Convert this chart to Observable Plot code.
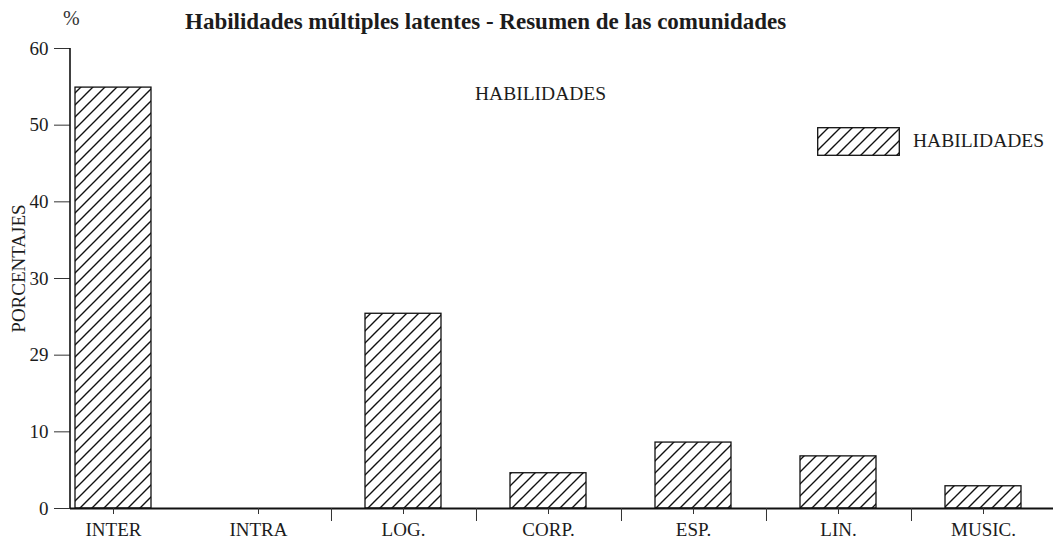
<!DOCTYPE html>
<html><head><meta charset="utf-8">
<script src="https://cdn.jsdelivr.net/npm/d3@7"></script>
<script src="https://cdn.jsdelivr.net/npm/@observablehq/plot@0.6"></script>
<style>
body{margin:0;background:#fff;}
#wrap{position:relative;width:1053px;height:539px;font-family:"Liberation Serif",serif;color:#1c1c1c;overflow:hidden;}
.abs{position:absolute;white-space:nowrap;line-height:1;}
</style></head><body><div id="wrap"></div>
<script>
const categories = ["INTER", "INTRA", "LOG.", "CORP.", "ESP.", "LIN.", "MUSIC."];
const values = [54.9, 0, 25.4, 4.6, 8.6, 6.8, 2.9];
const yTicks = [0, 10, 20, 30, 40, 50, 60];
const yTickLabels = ["0", "10", "29", "30", "40", "50", "60"];
const title = "Habilidades múltiples latentes - Resumen de las comunidades";
const seriesName = "HABILIDADES";
const yLabel = "PORCENTAJES";
const unit = "%";

const data = categories.map((c, i) => ({cat: c, value: values[i]}));
const xRange = [72, 1024];
const padIn = 0.479;
const step = (xRange[1] - xRange[0]) / (categories.length - padIn);

const plot = Plot.plot({
  width: 1053,
  height: 539,
  marginLeft: 70,
  marginRight: 0,
  marginTop: 48,
  marginBottom: 31,
  style: {fontFamily: "'Liberation Serif', serif", fontSize: "19px", color: "#1c1c1c", background: "transparent"},
  x: {type: "band", domain: categories, range: xRange, paddingInner: padIn, paddingOuter: 0},
  y: {domain: [0, 60]},
  marks: [
    Plot.barY(data, {x: "cat", y: "value", fill: "url(#hatch)", stroke: "#111", strokeWidth: 1.3}),
    Plot.ruleY([0], {stroke: "#111", strokeWidth: 2}),
    Plot.axisX({tickSize: 6, tickPadding: 8, label: null, stroke: "#333"}),
    Plot.axisX(categories.slice(1, 6), {tickSize: 13, tickFormat: () => "", label: null, dx: step / 2, stroke: "#333"}),
    Plot.axisY(yTicks, {tickSize: 16, tickPadding: 6, label: null, stroke: "#333",
      tickFormat: d => yTickLabels[yTicks.indexOf(d)]}),
    Plot.text([yLabel], {frameAnchor: "left", textAnchor: "middle", rotate: -90, dx: -52, dy: -10, fill: "#1c1c1c"})
  ]
});

const svg = d3.select(plot);
svg.selectAll("text").style("font-size", "19px");
svg.insert("defs", ":first-child").html(
  '<pattern id="hatch" patternUnits="userSpaceOnUse" width="12" height="12">' +
  '<path d="M-3,3 l6,-6 M0,12 l12,-12 M9,15 l6,-6" stroke="#111" stroke-width="1.4"/></pattern>');
const ys = plot.scale("y");
svg.append("line")
  .attr("x1", 70).attr("x2", 70)
  .attr("y1", ys.apply(60)).attr("y2", ys.apply(0))
  .attr("stroke", "#111").attr("stroke-width", 1.6);

const wrap = document.getElementById("wrap");
wrap.appendChild(plot);
plot.style.position = "absolute";
plot.style.left = "0";
plot.style.top = "0";

function addText(txt, css) {
  const d = document.createElement("div");
  d.className = "abs";
  d.textContent = txt;
  Object.assign(d.style, css);
  wrap.appendChild(d);
  return d;
}
addText(title, {left: "185px", top: "10px", fontSize: "23px", fontWeight: "bold"});
addText(unit, {left: "63px", top: "8px", fontSize: "20px", color: "#333"});
addText(seriesName, {left: "475px", top: "84px", fontSize: "19.5px"});

const leg = document.createElement("div");
leg.className = "abs";
Object.assign(leg.style, {left: "817px", top: "127px", width: "83px", height: "29px"});
leg.innerHTML = '<svg width="83" height="29"><defs><pattern id="hatch2" patternUnits="userSpaceOnUse" width="12" height="12">' +
  '<path d="M-3,3 l6,-6 M0,12 l12,-12 M9,15 l6,-6" stroke="#111" stroke-width="1.4"/></pattern></defs>' +
  '<rect x="0.7" y="0.7" width="81.6" height="27.6" fill="url(#hatch2)" stroke="#111" stroke-width="1.3"/></svg>';
wrap.appendChild(leg);
addText(seriesName, {left: "913px", top: "131px", fontSize: "19.5px"});
</script></body></html>
